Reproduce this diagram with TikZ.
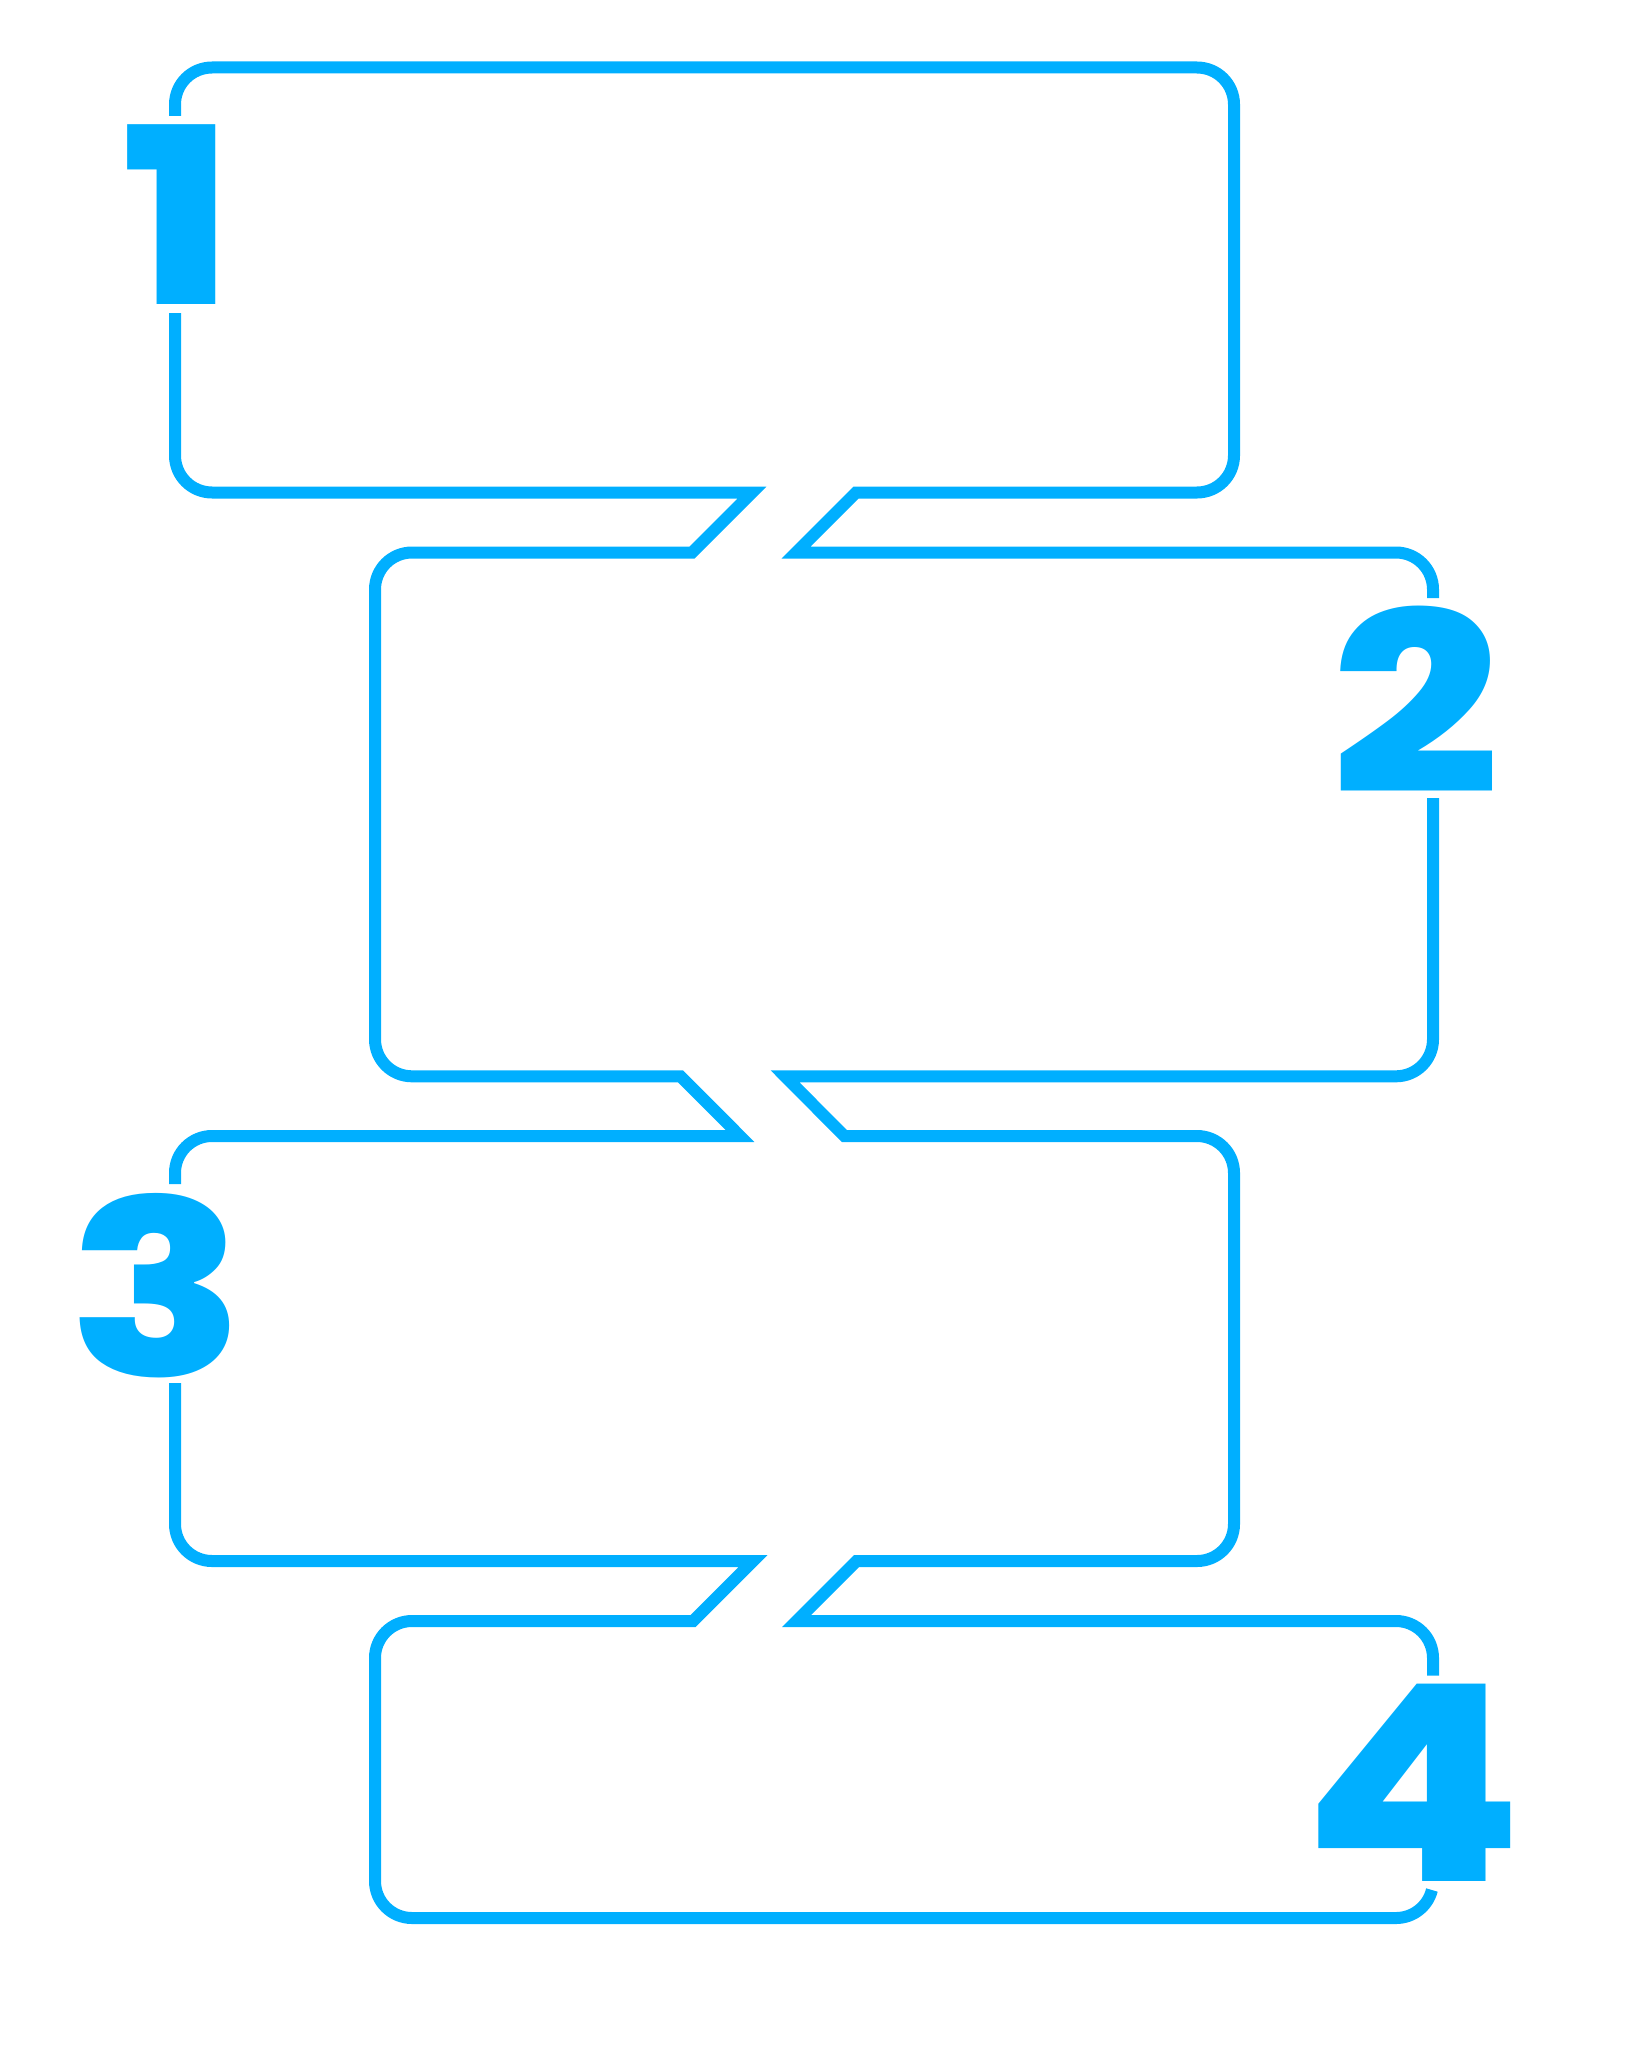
\documentclass[tikz,border=0pt]{standalone}
\usepackage{fontspec}
\newfontfamily\digitfont{Poppins ExtraBold}
\definecolor{stepblue}{RGB}{0,175,255}

\begin{document}
\begin{tikzpicture}[x=0.2mm,y=-0.2mm]
			\tikzstyle{num} = [
				text = stepblue, inner sep = 0pt, xscale = 1.18
			]
			\tikzstyle{line}=[-,draw=stepblue,line width=2.4mm]
			\def\rr{7.4mm}
			\useasboundingbox (0,0) rectangle (1639,2048);
			\node[num, xscale = 0.985, font = \digitfont\fontsize{140}{140}\selectfont] (1) at (178,214.5) {1};
			\node[num, font = \digitfont\fontsize{143}{143}\selectfont] (2) at (1416,700) {2};
			\node[num, font = \digitfont\fontsize{139.5}{139.5}\selectfont] (3) at (157,1286) {3};
			\node[num, xscale = 0.99, font = \digitfont\fontsize{156}{156}\selectfont] (4) at (1413.5,1782.5) {4};
			\coordinate (1a) at (175,116);
			\coordinate (1b) at (175,313);
			\coordinate (2a) at (1433,598);
			\coordinate (2b) at (1433,798);
			\coordinate (3a) at (175,1184);
			\coordinate (3b) at (175,1383);
			\coordinate (4a) at (1433,1675.7);
			\coordinate (4b) at (1431.9,1890);
			\draw[line] (1a) -- (175,104.5) arc[start angle=180,end angle=90,radius=\rr]
				-- (1197,67.5) arc[start angle=90,end angle=0,radius=\rr]
				-- (1234,455.5) arc[start angle=0,end angle=-90,radius=\rr]
				-- (856,492.5) -- (796,552.5)
				-- (1396,552.5) arc[start angle=90,end angle=0,radius=\rr] -- (2a);
			\draw[line] (2b) -- (1433,1039.3) arc[start angle=0,end angle=-90,radius=\rr]
				-- (785,1076.3) -- (844.3,1136)
				-- (1197,1136) arc[start angle=90,end angle=0,radius=\rr]
				-- (1234,1524) arc[start angle=0,end angle=-90,radius=\rr]
				-- (856.5,1561) -- (796.5,1621)
				-- (1396,1621) arc[start angle=90,end angle=0,radius=\rr] -- (4a);
			\draw[line] (4b) arc[start angle=-14.08,end angle=-90,radius=\rr]
				-- (412,1918) arc[start angle=-90,end angle=-180,radius=\rr]
				-- (375,1658) arc[start angle=180,end angle=90,radius=\rr]
				-- (693,1621) -- (753,1561)
				-- (212,1561) arc[start angle=-90,end angle=-180,radius=\rr] -- (3b);
			\draw[line] (3a) -- (175,1173) arc[start angle=180,end angle=90,radius=\rr]
				-- (740,1136) -- (680.5,1076.3)
				-- (412,1076.3) arc[start angle=-90,end angle=-180,radius=\rr]
				-- (375,589.5) arc[start angle=180,end angle=90,radius=\rr]
				-- (692,552.5) -- (752,492.5)
				-- (212,492.5) arc[start angle=-90,end angle=-180,radius=\rr] -- (1b);
		\end{tikzpicture}
\end{document}
